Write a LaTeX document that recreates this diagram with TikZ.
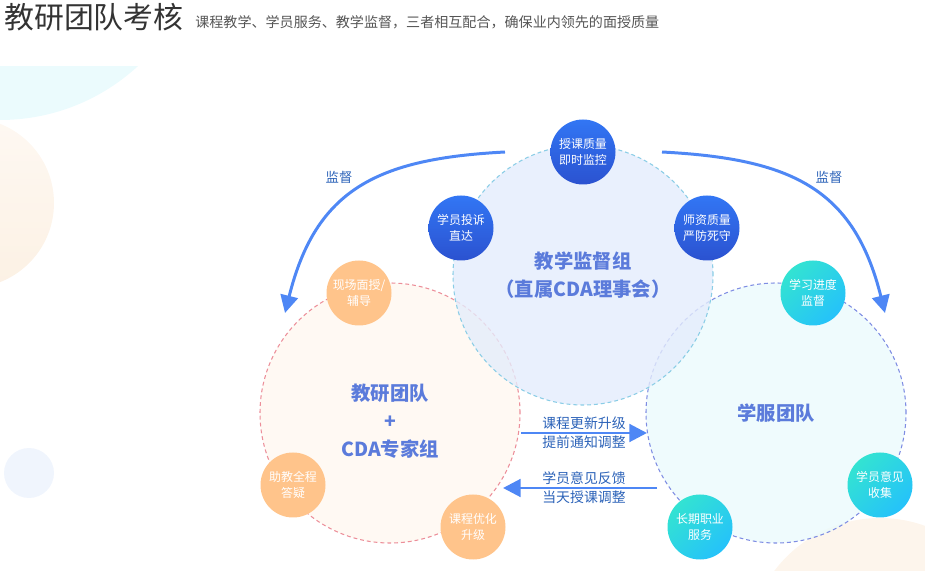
\documentclass[tikz,border=0pt]{standalone}
\usepackage{fontspec}
\setmainfont{Noto Sans CJK SC}
\usetikzlibrary{arrows.meta}
\definecolor{khTitle}{HTML}{333333}
\definecolor{khSub}{HTML}{555555}
\definecolor{khMain}{HTML}{5B7BDB}
\definecolor{khNote}{HTML}{2B62B8}
\definecolor{khArrow}{HTML}{4E87F5}
\definecolor{khBlueA}{HTML}{3276F4}
\definecolor{khBlueB}{HTML}{2B52D0}
\definecolor{khCyanA}{HTML}{25C2FA}
\definecolor{khCyanB}{HTML}{33E3D2}
\definecolor{khOrange}{HTML}{FFC48B}
\definecolor{khTopFill}{HTML}{E4ECFC}
\definecolor{khTopLine}{HTML}{8ACDE6}
\definecolor{khLeftFill}{HTML}{FFF8F0}
\definecolor{khLeftLine}{HTML}{EC8E99}
\definecolor{khRightFill}{HTML}{EBFAFC}
\definecolor{khRightLine}{HTML}{7E8CE3}
\definecolor{khBgCyan}{HTML}{EBFBFD}
\definecolor{khBgOrangeA}{HTML}{FEF8F2}
\definecolor{khBgOrangeB}{HTML}{FCF1E4}
\definecolor{khBgBlue}{HTML}{F0F5FD}
\definecolor{khBgOrangeC}{HTML}{FDF5EC}
\tikzset{
  khgroup/.style={circle, minimum size=5.2cm, inner sep=0pt, line width=0.6pt,
                  dash pattern=on 2.2pt off 1.7pt, fill opacity=0.8},
  khmain/.style={align=center, text=khMain, inner sep=0pt,
                 font=\fontsize{11}{16}\selectfont\bfseries},
  khitem/.style={circle, minimum size=1.3cm, inner sep=0pt, align=center,
                 text=white, font=\fontsize{6.8}{9.4}\selectfont},
  khblue/.style={khitem, top color=khBlueA, bottom color=khBlueB},
  khcyan/.style={khitem, left color=khCyanB, right color=khCyanA, shading angle=45},
  khorange/.style={khitem, fill=khOrange},
  khflow/.style={draw=khArrow, line width=1.7pt, -{Triangle[length=10pt,width=10pt]}},
  khflowlab/.style={align=center, text=khNote, inner sep=0pt,
                    font=\fontsize{7.9}{10.8}\selectfont},
  khnote/.style={text=khNote, inner sep=0pt, font=\fontsize{7.6}{9}\selectfont},
}

\begin{document}
\begin{tikzpicture}
  \useasboundingbox (0,0) rectangle (18.5,11.4);
  \begin{scope}
    \clip (0,0) rectangle (18.5,10.06);
    \fill[khBgCyan] (0,13.07) circle (4.07);
    \shade[top color=khBgOrangeA, bottom color=khBgOrangeB] (-0.62,7.34) circle (1.70);
    \fill[khBgBlue] (0.58,1.94) circle (0.5);
    \fill[khBgOrangeC] (17.6,-1.6) circle (2.64);
  \end{scope}

  \node[anchor=west, inner sep=0pt, text=khTitle, font=\fontsize{17}{17}\selectfont] (title) at (0.08,11.05) {教研团队考核};
  \node[anchor=west, inner sep=0pt, text=khSub, font=\fontsize{8}{9}\selectfont] (sub) at (3.90,10.95) {课程教学、学员服务、教学监督，三者相互配合，确保业内领先的面授质量};

  \node[khgroup, fill=khLeftFill, draw=khLeftLine] (L) at (7.80,3.14) {};
  \node[khgroup, fill=khRightFill, draw=khRightLine] (R) at (15.52,3.14) {};
  \node[khgroup, fill=khTopFill, draw=khTopLine] (T) at (11.66,5.90) {};

  \node[khmain] (Tt) at (T) {教学监督组\\（直属CDA理事会）};
  \node[khmain, yshift=-0.17cm] (Lt) at (L) {教研团队\\+\\CDA专家组};
  \node[khmain] (Rt) at (R) {学服团队};

  \node[khblue] (t1) at (11.66,8.36) {授课质量\\即时监控};
  \node[khblue] (t2) at (9.22,6.84) {学员投诉\\直达};
  \node[khblue] (t3) at (14.14,6.84) {师资质量\\严防死守};
  \node[khorange] (l1) at (7.18,5.54) {现场面授/\\辅导};
  \node[khorange] (l2) at (5.86,1.70) {助教全程\\答疑};
  \node[khorange] (l3) at (9.46,0.86) {课程优化\\升级};
  \node[khcyan] (r1) at (16.26,5.54) {学习进度\\监督};
  \node[khcyan] (r2) at (17.60,1.70) {学员意见\\收集};
  \node[khcyan] (r3) at (14.00,0.86) {长期职业\\服务};

  \coordinate (la) at (10.10,8.36);
  \coordinate (lb) at (5.70,5.14);
  \coordinate (ra) at (13.24,8.36);
  \coordinate (rb) at (17.70,5.14);
  \draw[khflow] (la) to[out=183,in=76,looseness=1.2] (lb);
  \draw[khflow] (ra) to[out=-3,in=104,looseness=1.2] (rb);
  \node[khnote] (ln) at (6.78,7.86) {监督};
  \node[khnote] (rn) at (16.58,7.86) {监督};

  \coordinate (fa) at (10.42,2.74);
  \coordinate (fb) at (12.94,2.74);
  \coordinate (ga) at (13.14,1.64);
  \coordinate (gb) at (10.06,1.64);
  \draw[khflow] (fa) -- node[khflowlab] (f1) {课程更新升级\\提前通知调整} (fb);
  \draw[khflow] (ga) -- node[khflowlab, xshift=0.08cm] (f2) {学员意见反馈\\当天授课调整} (gb);
\end{tikzpicture}
\end{document}
